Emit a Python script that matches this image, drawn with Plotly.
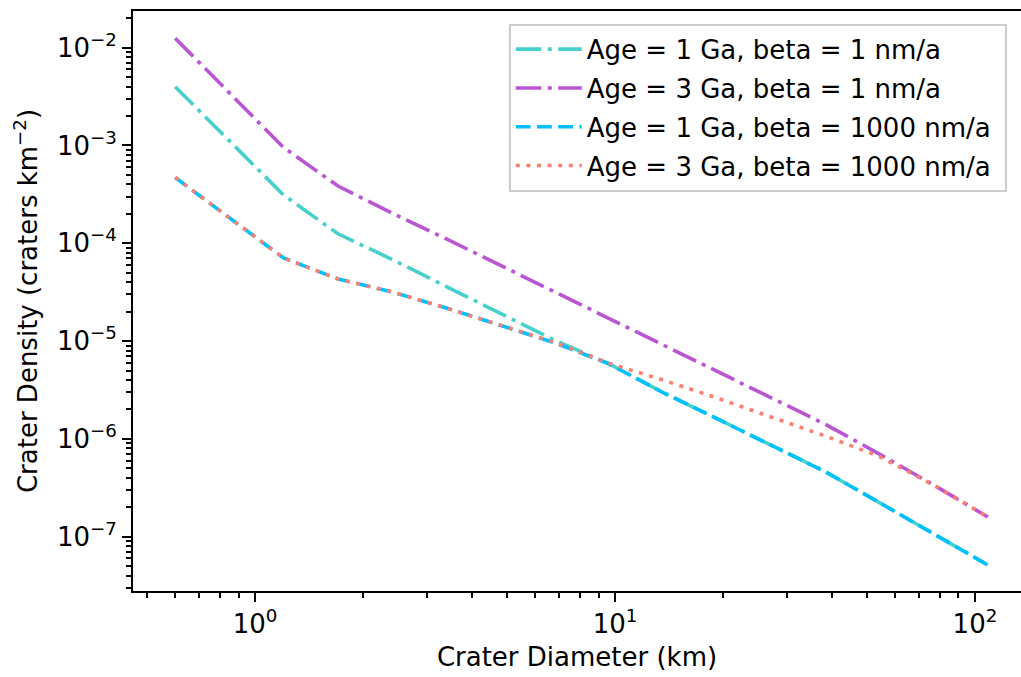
import plotly.graph_objects as go

# Crater diameter bins (km)
diameter_km = [0.6, 1.2, 1.7, 2.4, 3.4, 4.8, 6.8, 9.6, 13.6, 19.2, 27.2, 38.4, 54.3, 76.8, 108.6]

# Cumulative crater density (craters per km^2) for each model run
density_1ga_beta1 = [3.99e-3, 3.12e-4, 1.25e-4, 6.86e-5, 3.61e-5, 1.94e-5, 1.02e-5,
                     5.88e-6, 2.98e-6, 1.61e-6, 8.67e-7, 4.62e-7, 2.23e-7, 1.08e-7, 5.14e-8]
density_3ga_beta1 = [1.25e-2, 9.55e-4, 3.85e-4, 2.04e-4, 1.11e-4, 5.97e-5, 3.20e-5,
                     1.72e-5, 9.08e-6, 4.89e-6, 2.61e-6, 1.41e-6, 7.0e-7, 3.38e-7, 1.59e-7]
density_1ga_beta1000 = [4.71e-4, 7.08e-5, 4.32e-5, 3.19e-5, 2.18e-5, 1.46e-5, 9.6e-6,
                        5.88e-6, 2.98e-6, 1.61e-6, 8.67e-7, 4.62e-7, 2.23e-7, 1.08e-7, 5.14e-8]
density_3ga_beta1000 = [4.71e-4, 7.08e-5, 4.32e-5, 3.19e-5, 2.18e-5, 1.46e-5, 9.7e-6,
                        5.95e-6, 4.00e-6, 2.62e-6, 1.67e-6, 1.07e-6, 6.6e-7, 3.38e-7, 1.59e-7]

series_names = ["Age = 1 Ga, beta = 1 nm/a", "Age = 3 Ga, beta = 1 nm/a",
                "Age = 1 Ga, beta = 1000 nm/a", "Age = 3 Ga, beta = 1000 nm/a"]
series_values = [density_1ga_beta1, density_3ga_beta1, density_1ga_beta1000, density_3ga_beta1000]
series_colors = ["#48D1CC", "#BA55D3", "#00BFFF", "#FA8072"]

LW = 4.0
dash_dot = f"{6.4*LW}px,{1.6*LW}px,{1.0*LW}px,{1.6*LW}px"
dashed = f"{3.7*LW}px,{1.6*LW}px"
dotted = f"{1.0*LW}px,{1.65*LW}px"
series_dashes = [dash_dot, dash_dot, dashed, dotted]

FONT = "DejaVu Sans"
PAD = "\u00a0"  # a little breathing room on the right of legend entries

fig = go.Figure()
for i, (name, vals, col, dsh) in enumerate(zip(series_names, series_values, series_colors, series_dashes)):
    fig.add_trace(go.Scatter(
        x=diameter_km, y=vals, mode="lines", name=name + PAD,
        line=dict(color=col, width=3.6, dash=dsh),
        legendgroup=f"g{i}",
    ))

x_major = [1, 10, 100]
x_major_text = ["10<sup>0</sup>", "10<sup>1</sup>", "10<sup>2</sup>"]
x_minor = [m * 10 ** e for e in (-1, 0, 1, 2) for m in range(2, 10)]

y_major = [1e-7, 1e-6, 1e-5, 1e-4, 1e-3, 1e-2]
y_major_text = ["10<sup>\u22127</sup>", "10<sup>\u22126</sup>", "10<sup>\u22125</sup>",
                "10<sup>\u22124</sup>", "10<sup>\u22123</sup>", "10<sup>\u22122</sup>"]
y_minor = [m * 10.0 ** e for e in range(-9, -1) for m in range(2, 10)]

fig.update_layout(
    width=1021, height=677,
    margin=dict(l=133, r=0, t=11, b=86),
    paper_bgcolor="white", plot_bgcolor="white",
    font=dict(family=FONT, size=26, color="black"),
    showlegend=True,
    legend=dict(
        x=0.984, y=0.978, xanchor="right", yanchor="top",
        bgcolor="rgba(255,255,255,0.8)", bordercolor="#cccccc", borderwidth=2,
        font=dict(family=FONT, size=26), tracegroupgap=2, itemwidth=66,
    ),
    xaxis=dict(
        type="log", range=[-0.339, 2.128],
        showline=True, linecolor="black", linewidth=2, mirror=True,
        showgrid=False, zeroline=False,
        ticks="outside", ticklen=9, tickwidth=2, tickcolor="black",
        tickmode="array", tickvals=x_major, ticktext=x_major_text,
        minor=dict(tickmode="array", tickvals=x_minor, ticks="outside",
                   ticklen=5, tickwidth=1.5, tickcolor="black", showgrid=False),
        title=dict(text="Crater Diameter (km)", font=dict(family=FONT, size=26), standoff=10),
    ),
    yaxis=dict(
        type="log", range=[-7.555, -1.625],
        showline=True, linecolor="black", linewidth=2, mirror=False,
        showgrid=False, zeroline=False,
        ticks="outside", ticklen=9, tickwidth=2, tickcolor="black",
        tickmode="array", tickvals=y_major, ticktext=y_major_text,
        minor=dict(tickmode="array", tickvals=y_minor, ticks="outside",
                   ticklen=5, tickwidth=1.5, tickcolor="black", showgrid=False),
        title=dict(text="Crater Density (craters km<sup>\u22122</sup>)",
                   font=dict(family=FONT, size=26), standoff=12),
    ),
)

fig.write_html("out.html")
